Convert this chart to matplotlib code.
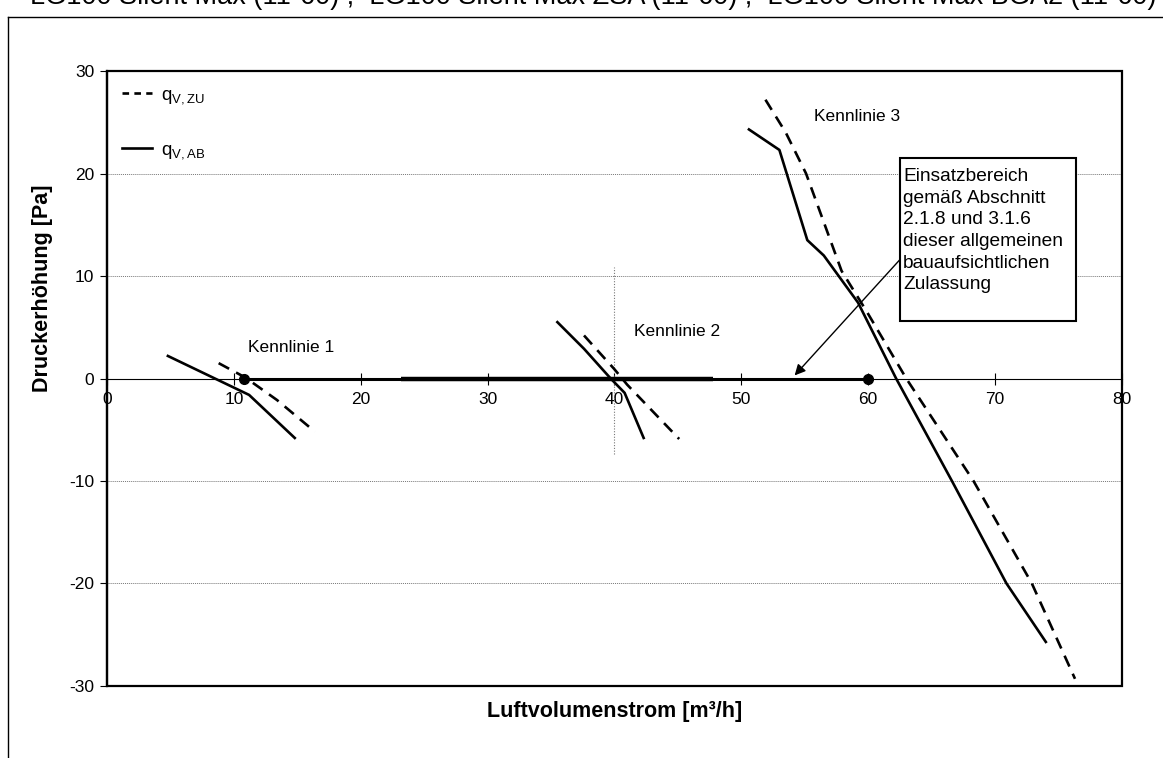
import matplotlib
matplotlib.use("Agg")
import matplotlib.pyplot as plt
from matplotlib.patches import Rectangle
from matplotlib.lines import Line2D

plt.rcParams['font.family'] = ['Liberation Sans', 'DejaVu Sans']
plt.rcParams['axes.unicode_minus'] = False
plt.rcParams['mathtext.default'] = 'regular'

# Kennlinie 1
k1_ab_x = [4.8, 8.0, 11.2, 14.8]
k1_ab_y = [2.2, 0.3, -1.6, -5.8]
k1_zu_x = [8.8, 10.9, 13.4, 16.4]
k1_zu_y = [1.5, 0.1, -2.1, -5.2]

# Kennlinie 2
k2_ab_x = [35.5, 37.6, 39.7, 40.8, 42.3]
k2_ab_y = [5.5, 2.9, 0.0, -1.4, -5.8]
k2_zu_x = [37.6, 40.0, 41.0, 45.1]
k2_zu_y = [4.2, 0.9, -0.6, -5.9]

# Kennlinie 3
k3_ab_x = [50.6, 53.0, 55.2, 56.5, 59.2, 62.2, 66.6, 70.9, 74.0]
k3_ab_y = [24.3, 22.3, 13.5, 12.0, 7.4, 0.0, -10.0, -20.0, -25.7]
k3_zu_x = [51.9, 53.5, 55.1, 57.9, 59.9, 63.0, 68.3, 72.9, 76.3]
k3_zu_y = [27.2, 24.0, 20.0, 10.5, 6.5, 0.0, -10.0, -20.0, -29.3]

# Einsatzbereich (operating range on the zero line)
range_x = [10.8, 60.0]
range_thick_x = [23.2, 47.8]
marker_x = 40.0
marker_y = [-7.4, 10.9]

x_ticks = [0, 10, 20, 30, 40, 50, 60, 70, 80]
y_ticks = [-30, -20, -10, 0, 10, 20, 30]

title = ("LG100 Silent Max (11-60) ;  LG100 Silent Max ZSA (11-60) ;  "
         "LG100 Silent Max BGA2 (11-60)")
box_text = ("Einsatzbereich\ngemäß Abschnitt\n2.1.8 und 3.1.6\n"
            "dieser allgemeinen\nbauaufsichtlichen\nZulassung")

fig = plt.figure(figsize=(11.63, 7.58), dpi=100)
ax = fig.add_axes([0.092, 0.095, 0.8727, 0.8113])

# outer chart border (cut at right and bottom)
fig.add_artist(Line2D([8/1163, 8/1163], [0, 1 - 17/758], transform=fig.transFigure,
                      color='black', lw=1.0))
fig.add_artist(Line2D([8/1163, 1], [1 - 17/758, 1 - 17/758], transform=fig.transFigure,
                      color='black', lw=1.0))
fig.text(30/1163, 1 - 4/758, title, fontsize=19.5, va='baseline', ha='left')

ax.set_xlim(0, 80)
ax.set_ylim(-30, 30)
ax.set_xticks(x_ticks)
ax.set_yticks(y_ticks)

ax.grid(axis='y', linestyle=(0, (1, 1)), color='#777777', lw=0.7)
ax.vlines(marker_x, marker_y[0], marker_y[1], linestyles=(0, (1, 1.5)),
          colors='#777777', lw=0.8)

for s in ['top', 'right']:
    ax.spines[s].set_visible(False)
ax.spines['bottom'].set_position(('data', 0))
ax.spines['bottom'].set_linewidth(0.8)
ax.spines['left'].set_linewidth(1.6)
ax.add_patch(Rectangle((0, 0), 1, 1, transform=ax.transAxes, fill=False,
                       ec='black', lw=1.6, zorder=5, clip_on=False))

ax.tick_params(axis='x', direction='inout', length=9, width=0.8, pad=5, labelsize=12.5)
ax.tick_params(axis='y', direction='out', length=5, width=0.8, pad=4, labelsize=12.5)

dash = (0, (4.5, 3))
lw = 1.9
ax.plot(k1_zu_x, k1_zu_y, color='black', lw=lw, linestyle=dash)
ax.plot(k1_ab_x, k1_ab_y, color='black', lw=lw)
ax.plot(k2_zu_x, k2_zu_y, color='black', lw=lw, linestyle=dash)
ax.plot(k2_ab_x, k2_ab_y, color='black', lw=lw)
ax.plot(k3_zu_x, k3_zu_y, color='black', lw=lw, linestyle=dash)
ax.plot(k3_ab_x, k3_ab_y, color='black', lw=lw)

ax.plot(range_x, [0, 0], color='black', lw=2.2, marker='o', markersize=7,
        solid_capstyle='butt')
ax.plot(range_thick_x, [0, 0], color='black', lw=3.2, solid_capstyle='butt')

ax.text(11.1, 3.0, 'Kennlinie 1', fontsize=12.5, va='center')
ax.text(41.5, 4.6, 'Kennlinie 2', fontsize=12.5, va='center')
ax.text(55.7, 25.6, 'Kennlinie 3', fontsize=12.5, va='center')

# annotation box with arrow
ax.annotate('', xy=(54.2, 0.3), xytext=(62.5, 11.6),
            arrowprops=dict(arrowstyle='-|>', color='black', lw=1.0,
                            mutation_scale=16, shrinkA=0, shrinkB=0))
ax.add_patch(Rectangle((62.5, 5.6), 13.9, 15.9, fc='white', ec='black', lw=1.5, zorder=4))
ax.text(62.75, 20.55, box_text, fontsize=13.8, va='top', ha='left',
        linespacing=1.36, zorder=6)

handles = [Line2D([], [], color='black', lw=1.9, linestyle=(0, (2.5, 2))),
           Line2D([], [], color='black', lw=1.9)]
ax.legend(handles, [r'$q_{V,ZU}$', r'$q_{V,AB}$'], loc='upper left',
          frameon=False, fontsize=13.5, handlelength=1.6, labelspacing=1.9,
          borderaxespad=0.4, handletextpad=0.5)

ax.set_xlabel('Luftvolumenstrom [m³/h]', fontsize=15.5, fontweight='bold')
ax.xaxis.set_label_coords(0.5, -0.042)
ax.xaxis.label.set_va('center')
ax.set_ylabel('Druckerhöhung [Pa]', fontsize=15.5, fontweight='bold')
ax.yaxis.set_label_coords(-0.064, 0.646)
ax.yaxis.label.set_va('center')

fig.savefig('out.png', dpi=100)
